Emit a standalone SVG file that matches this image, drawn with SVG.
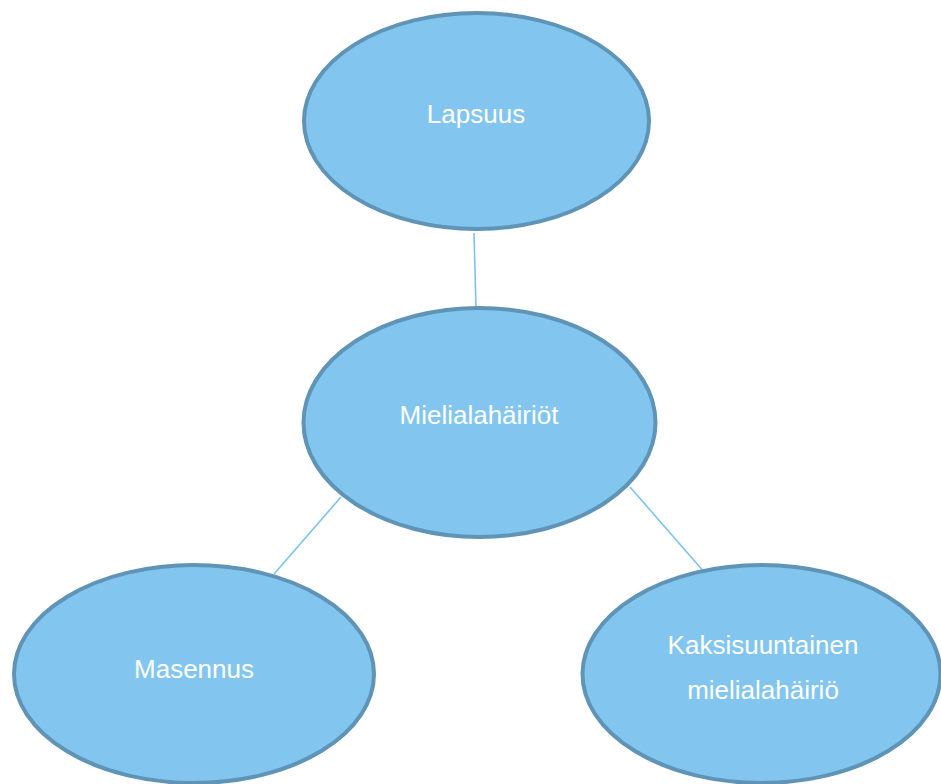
<svg xmlns="http://www.w3.org/2000/svg" width="941" height="784" viewBox="0 0 941 784">
<style>
.node ellipse{fill:#82c6ef;stroke:#5f94b6;stroke-width:4}
.node text{fill:#ffffff;font-family:"Liberation Sans",Arial,sans-serif;font-size:26px;text-anchor:middle}
.conn line{stroke:#7cc3ec;stroke-width:1.6}
</style>
<rect width="941" height="784" fill="#ffffff"/>
<g id="connectors" class="conn">
<line x1="474" y1="233" x2="476" y2="308"/>
<line x1="341" y1="497" x2="274" y2="574"/>
<line x1="630" y1="487" x2="705" y2="573"/>
</g>
<g id="lapsuus" class="node">
<ellipse cx="476.5" cy="121" rx="172.5" ry="108"/>
<text x="476" y="123">Lapsuus</text>
</g>
<g id="mielialahairiot" class="node">
<ellipse cx="479.5" cy="422.5" rx="176" ry="114.5"/>
<text x="479" y="424">Mielialahäiriöt</text>
</g>
<g id="masennus" class="node">
<ellipse cx="194" cy="674" rx="180" ry="109"/>
<text x="194" y="678">Masennus</text>
</g>
<g id="kaksisuuntainen" class="node">
<ellipse cx="761.5" cy="674" rx="179" ry="109"/>
<text x="763" y="654">Kaksisuuntainen</text>
<text x="763" y="699">mielialahäiriö</text>
</g>
</svg>
